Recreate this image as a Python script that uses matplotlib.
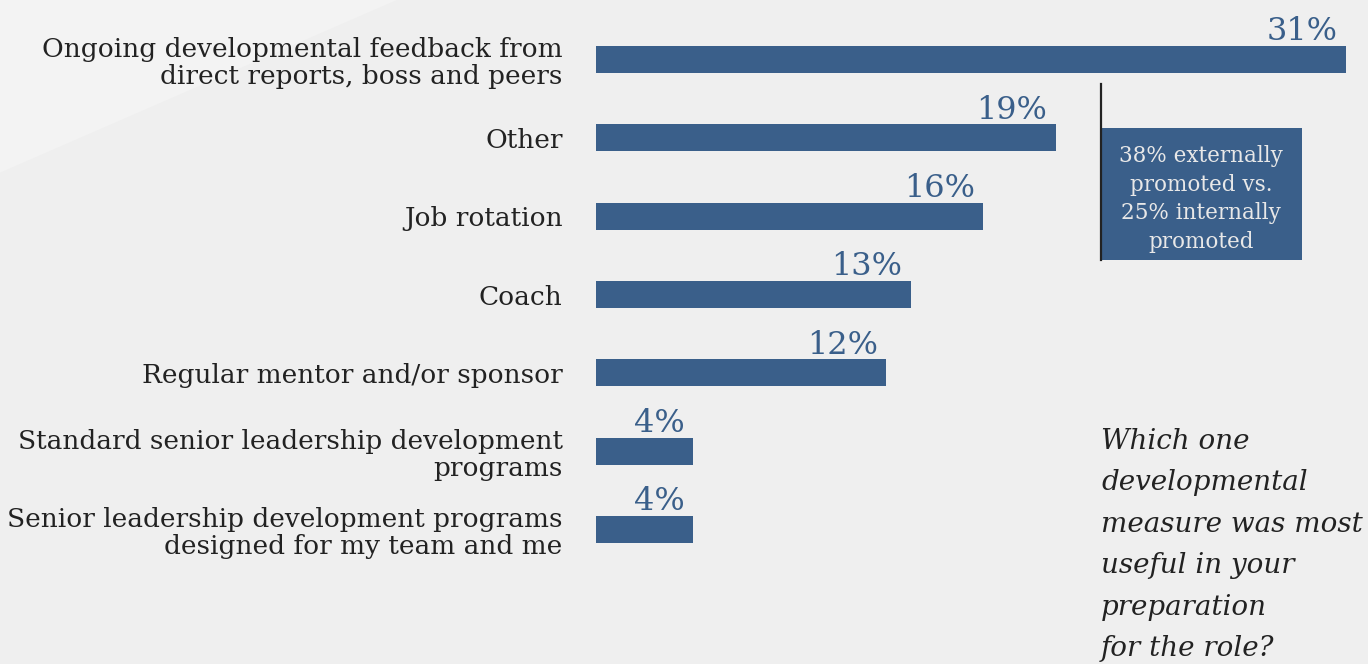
import matplotlib.pyplot as plt
from matplotlib.patches import Polygon, Rectangle
from matplotlib.lines import Line2D

categories = [
    "Ongoing developmental feedback from\ndirect reports, boss and peers",
    "Other",
    "Job rotation",
    "Coach",
    "Regular mentor and/or sponsor",
    "Standard senior leadership development\nprograms",
    "Senior leadership development programs\ndesigned for my team and me",
]
shares = [31, 19, 16, 13, 12, 4, 4]
callout = "38% externally\npromoted vs.\n25% internally\npromoted"
question = "Which one\ndevelopmental\nmeasure was most\nuseful in your\npreparation\nfor the role?"

BG = "#efefef"
BAR = "#3a5f8a"
INK = "#222222"
SERIF = ["DejaVu Serif"]

fig = plt.figure(figsize=(13.68, 6.64), dpi=100, facecolor=BG)

# faint light streak across the top-left corner, behind everything
bg = fig.add_axes([0, 0, 1, 1], zorder=-5)
bg.set_axis_off()
bg.set_xlim(0, 1)
bg.set_ylim(0, 1)
bg.add_patch(Polygon([(0.0, 0.84), (0.0, 1.0), (0.29, 1.0), (0.0, 0.74)],
                     closed=True, facecolor="white", alpha=0.25,
                     edgecolor="none"))

ax = fig.add_axes([596 / 1368, 0.0, 750 / 1368, 1.0])
ax.set_facecolor("none")
ys = list(range(len(shares)))
bar_h = 0.345
ax.barh(ys, shares, height=bar_h, color=BAR, edgecolor="none")
ax.set_xlim(0, 31)
ax.set_ylim(7.717, -0.76)

for y, v in zip(ys, shares):
    ax.annotate(f"{v}%", xy=(v, y - bar_h / 2), xytext=(-6, 4),
                textcoords="offset points", ha="right", va="baseline",
                fontsize=23, color=BAR, family=SERIF)

ax.set_yticks(ys, categories, fontsize=19, color=INK, family=SERIF,
              linespacing=1.12)
ax.tick_params(axis="y", length=0, pad=24)
for lbl in ax.get_yticklabels():
    lbl.set_horizontalalignment("right")
ax.set_xticks([])
for s in ax.spines.values():
    s.set_visible(False)

# callout box with a dark rule on its left edge
fig.patches.append(Rectangle((1101 / 1368, 404 / 664), 201 / 1368, 132 / 664,
                             transform=fig.transFigure, facecolor=BAR,
                             edgecolor="none"))
fig.lines.append(Line2D([1101 / 1368, 1101 / 1368], [404 / 664, 580 / 664],
                        transform=fig.transFigure, color=INK, linewidth=1.6))
fig.text(1201 / 1368, 465 / 664, callout, ha="center", va="center",
         fontsize=15.5, color="#e8e8e8", family=SERIF, linespacing=1.38)

fig.text(1101 / 1368, 236 / 664, question, ha="left", va="top",
         fontsize=20, style="italic", color=INK, family=SERIF,
         linespacing=1.69)

fig.savefig("out.png", dpi=100, facecolor=BG)
